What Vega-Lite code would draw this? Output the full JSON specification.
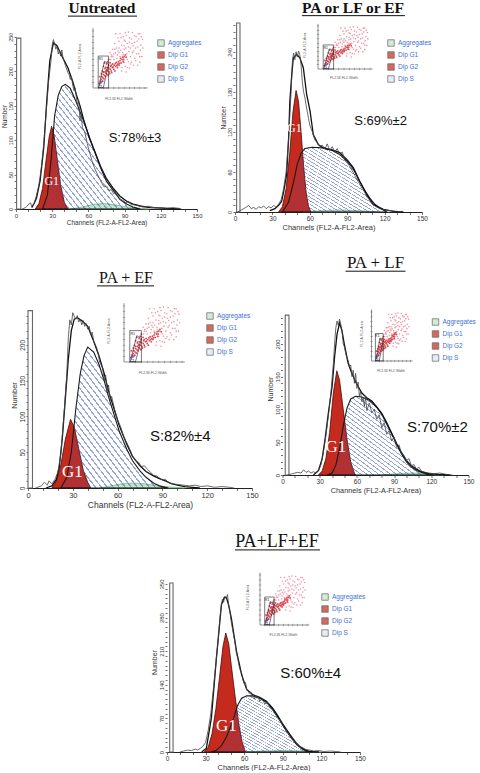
{
"$schema": "https://vega.github.io/schema/vega-lite/v6.json",
"background": "white",
"padding": {"left": 0, "top": 0, "right": 0, "bottom": 0},
"config": {
 "view": {"stroke": null},
 "font": "Liberation Sans",
 "axis": {"labelFont": "Liberation Sans", "titleFont": "Liberation Sans", "labelColor": "#333", "titleColor": "#333", "titleFontWeight": "normal", "tickColor": "#333", "tickWidth": 0.7, "domainColor": "#222", "grid": false, "labelOverlap": false},
 "axisX": {"labelFlush": false, "tickSize": 2.5, "labelPadding": 1, "titlePadding": 1},
 "axisY": {"labelAngle": 270, "tickSize": 2, "labelPadding": 0.5, "titlePadding": 1, "domain": false},
 "legend": {"symbolType": "square", "symbolSize": 42, "symbolStrokeColor": "#222", "symbolStrokeWidth": 0.7, "labelFont": "Liberation Sans", "labelFontSize": 6.5, "labelColor": "#3f6fd6", "rowPadding": 2, "labelOffset": 3, "padding": 0}
},
"datasets": {
 "leg": [{"c":"Aggregates","x":0,"y":0},{"c":"Dip G1","x":0,"y":0},{"c":"Dip G2","x":0,"y":0},{"c":"Dip S","x":0,"y":0}],
 "sax": [{"u":0,"v":0,"u2":1.05,"v2":0},{"u":0,"v":0,"u2":0,"v2":1.05}],
 "stx": [{"u":0.1,"v":0},{"u":0.2,"v":0},{"u":0.3,"v":0},{"u":0.4,"v":0},{"u":0.5,"v":0},{"u":0.6,"v":0},{"u":0.7,"v":0},{"u":0.8,"v":0},{"u":0.9,"v":0},{"u":1,"v":0}],
 "sty": [{"u":0,"v":0.1},{"u":0,"v":0.2},{"u":0,"v":0.3},{"u":0,"v":0.4},{"u":0,"v":0.5},{"u":0,"v":0.6},{"u":0,"v":0.7},{"u":0,"v":0.8},{"u":0,"v":0.9},{"u":0,"v":1}],
 "sgr": [{"u":0.1,"u2":0.3,"v":0,"v2":0.56}],
 "sgp": [{"u":0.11,"v":0.01,"o":1},{"u":0.2,"v":0.01,"o":2},{"u":0.3,"v":0.42,"o":3},{"u":0.22,"v":0.47,"o":4},{"u":0.11,"v":0.01,"o":5}],
 "sxt": [{"u":0.5,"v":-0.2,"t":"FL2-W-FL2-Width"}],
 "syt": [{"u":-0.25,"v":0.55,"t":"FL2-A-FL2-Area"}],
 "srt": [{"u":0.15,"v":0.5,"t":"R1"}],
 "scd": [{"u":0.12,"v":0.08},{"u":0.14,"v":0.12},{"u":0.15,"v":0.1},{"u":0.16,"v":0.15},{"u":0.17,"v":0.2},{"u":0.18,"v":0.12},{"u":0.19,"v":0.18},{"u":0.2,"v":0.24},{"u":0.21,"v":0.16},{"u":0.22,"v":0.22},{"u":0.23,"v":0.28},{"u":0.24,"v":0.2},{"u":0.25,"v":0.26},{"u":0.26,"v":0.32},{"u":0.27,"v":0.24},{"u":0.28,"v":0.3},{"u":0.29,"v":0.22},{"u":0.3,"v":0.35},{"u":0.31,"v":0.28},{"u":0.32,"v":0.25},{"u":0.33,"v":0.33},{"u":0.34,"v":0.38},{"u":0.35,"v":0.3},{"u":0.36,"v":0.27},{"u":0.37,"v":0.36},{"u":0.38,"v":0.42},{"u":0.4,"v":0.33},{"u":0.41,"v":0.4},{"u":0.42,"v":0.3},{"u":0.44,"v":0.38},{"u":0.45,"v":0.45},{"u":0.47,"v":0.36},{"u":0.48,"v":0.42},{"u":0.5,"v":0.4},{"u":0.52,"v":0.48},{"u":0.54,"v":0.44},{"u":0.56,"v":0.5},{"u":0.58,"v":0.46},{"u":0.6,"v":0.55},{"u":0.18,"v":0.3},{"u":0.2,"v":0.38},{"u":0.22,"v":0.44},{"u":0.24,"v":0.36},{"u":0.26,"v":0.42},{"u":0.16,"v":0.25},{"u":0.13,"v":0.2},{"u":0.28,"v":0.46},{"u":0.3,"v":0.5},{"u":0.35,"v":0.4},{"u":0.39,"v":0.37},{"u":0.43,"v":0.43},{"u":0.46,"v":0.4},{"u":0.49,"v":0.46},{"u":0.51,"v":0.43},{"u":0.53,"v":0.52},{"u":0.57,"v":0.54},{"u":0.59,"v":0.5},{"u":0.62,"v":0.58},{"u":0.64,"v":0.54},{"u":0.25,"v":0.3},{"u":0.27,"v":0.36},{"u":0.3,"v":0.4},{"u":0.33,"v":0.44},{"u":0.2,"v":0.28},{"u":0.23,"v":0.34}],
 "scs": [{"u":0.35,"v":0.55},{"u":0.4,"v":0.6},{"u":0.45,"v":0.7},{"u":0.5,"v":0.62},{"u":0.55,"v":0.75},{"u":0.6,"v":0.68},{"u":0.62,"v":0.82},{"u":0.65,"v":0.6},{"u":0.68,"v":0.72},{"u":0.7,"v":0.88},{"u":0.72,"v":0.55},{"u":0.75,"v":0.78},{"u":0.78,"v":0.65},{"u":0.8,"v":0.92},{"u":0.82,"v":0.7},{"u":0.85,"v":0.82},{"u":0.88,"v":0.6},{"u":0.9,"v":0.95},{"u":0.92,"v":0.75},{"u":0.95,"v":0.85},{"u":0.42,"v":0.78},{"u":0.48,"v":0.88},{"u":0.52,"v":0.95},{"u":0.58,"v":0.9},{"u":0.38,"v":0.68},{"u":0.66,"v":0.5},{"u":0.74,"v":0.45},{"u":0.8,"v":0.52},{"u":0.86,"v":0.4},{"u":0.62,"v":0.38},{"u":0.7,"v":0.35},{"u":0.55,"v":0.3},{"u":0.64,"v":0.28},{"u":0.9,"v":0.55},{"u":0.46,"v":0.52},{"u":0.33,"v":0.62},{"u":0.76,"v":0.97},{"u":0.68,"v":0.98},{"u":0.44,"v":0.95},{"u":0.58,"v":0.58},{"u":0.3,"v":0.45},{"u":0.34,"v":0.5},{"u":0.36,"v":0.58},{"u":0.4,"v":0.5},{"u":0.43,"v":0.62},{"u":0.47,"v":0.58},{"u":0.5,"v":0.7},{"u":0.53,"v":0.66},{"u":0.57,"v":0.62},{"u":0.6,"v":0.74},{"u":0.63,"v":0.7},{"u":0.66,"v":0.78},{"u":0.69,"v":0.64},{"u":0.72,"v":0.7},{"u":0.74,"v":0.86},{"u":0.77,"v":0.74},{"u":0.8,"v":0.8},{"u":0.83,"v":0.9},{"u":0.86,"v":0.72},{"u":0.88,"v":0.86},{"u":0.91,"v":0.66},{"u":0.93,"v":0.9},{"u":0.96,"v":0.7},{"u":0.5,"v":0.82},{"u":0.54,"v":0.88},{"u":0.6,"v":0.84},{"u":0.64,"v":0.92},{"u":0.7,"v":0.8},{"u":0.76,"v":0.62},{"u":0.84,"v":0.6},{"u":0.9,"v":0.45},{"u":0.94,"v":0.55},{"u":0.78,"v":0.4},{"u":0.72,"v":0.42},{"u":0.68,"v":0.46},{"u":0.6,"v":0.45},{"u":0.52,"v":0.55},{"u":0.48,"v":0.65},{"u":0.42,"v":0.68},{"u":0.38,"v":0.55},{"u":0.56,"v":0.36},{"u":0.66,"v":0.36},{"u":0.82,"v":0.48},{"u":0.87,"v":0.95},{"u":0.62,"v":0.97}],
 "scb": [{"u":0.13,"v":0.05},{"u":0.15,"v":0.08},{"u":0.17,"v":0.1},{"u":0.16,"v":0.04},{"u":0.19,"v":0.12}],

 "p1b": [{"x":0.5,"x2":4,"y":0,"y2":248}],
 "p1t": [{"x":98.6,"y":103.5,"t":"S:78%±3"}],
 "p1l": [{"x":29.6,"y":40.6,"t":"G1"}],
 "p1u": [{"x":43.1,"x2":100.3,"y":280}],
 "p1h": [{"x":5,"y":0},{"x":8,"y":2},{"x":10,"y":6},{"x":12,"y":9},{"x":13,"y":4},{"x":15,"y":8},{"x":17,"y":20},{"x":19,"y":35},{"x":21,"y":60},{"x":23,"y":95},{"x":25,"y":140},{"x":27,"y":185},{"x":29,"y":215},{"x":30,"y":238},{"x":31,"y":246},{"x":32,"y":240},{"x":33,"y":232},{"x":34,"y":236},{"x":35,"y":225},{"x":36,"y":230},{"x":37,"y":222},{"x":38,"y":231},{"x":39,"y":219},{"x":40,"y":214},{"x":41,"y":208},{"x":42,"y":203},{"x":43,"y":198},{"x":44,"y":195},{"x":45,"y":188},{"x":46,"y":192},{"x":47,"y":180},{"x":48,"y":172},{"x":49,"y":176},{"x":50,"y":162},{"x":51,"y":150},{"x":52,"y":158},{"x":53,"y":128},{"x":54,"y":140},{"x":55,"y":118},{"x":57,"y":112},{"x":59,"y":95},{"x":61,"y":82},{"x":63,"y":70},{"x":65,"y":60},{"x":67,"y":52},{"x":69,"y":45},{"x":71,"y":38},{"x":73,"y":32},{"x":75,"y":33},{"x":77,"y":27},{"x":79,"y":28},{"x":81,"y":22},{"x":83,"y":25},{"x":85,"y":17},{"x":87,"y":14},{"x":89,"y":12},{"x":91,"y":9},{"x":93,"y":11},{"x":95,"y":7},{"x":98,"y":6},{"x":101,"y":5},{"x":105,"y":3},{"x":110,"y":4},{"x":115,"y":2},{"x":120,"y":2},{"x":125,"y":1},{"x":130,"y":2},{"x":135,"y":1},{"x":137,"y":0}],
 "p1e": [{"x":13,"y":2},{"x":15,"y":8},{"x":17,"y":16},{"x":20,"y":41},{"x":23,"y":89},{"x":25.5,"y":157},{"x":28,"y":215},{"x":31,"y":241},{"x":34,"y":237},{"x":38,"y":222},{"x":43,"y":205},{"x":47,"y":185},{"x":50,"y":166},{"x":53,"y":150},{"x":56,"y":130},{"x":61,"y":102},{"x":65,"y":85},{"x":70,"y":62},{"x":75,"y":44},{"x":81,"y":29},{"x":86,"y":19},{"x":92,"y":11},{"x":97,"y":7},{"x":104,"y":4},{"x":111,"y":2},{"x":125,"y":1},{"x":136,"y":0}],
 "p1g": [{"x":16,"y":0},{"x":19,"y":8},{"x":22,"y":30},{"x":25,"y":72},{"x":27.5,"y":105},{"x":29.5,"y":120},{"x":31.5,"y":108},{"x":34,"y":75},{"x":37,"y":35},{"x":40,"y":10},{"x":43,"y":0}],
 "p1s": [{"x":22,"y":0},{"x":26,"y":20},{"x":29,"y":70},{"x":32,"y":135},{"x":35,"y":165},{"x":38,"y":178},{"x":41,"y":181},{"x":45,"y":175},{"x":50,"y":155},{"x":56,"y":128},{"x":64,"y":89},{"x":70,"y":60},{"x":75,"y":40},{"x":81,"y":26},{"x":86,"y":14},{"x":92,"y":7},{"x":97,"y":3},{"x":103,"y":0}],
 "p1a": [{"x":45,"y":0},{"x":55,"y":3},{"x":65,"y":7},{"x":73,"y":8},{"x":82,"y":6},{"x":92,"y":3},{"x":100,"y":1.5},{"x":110,"y":0}],

 "p2b": [{"x":1.3,"x2":4,"y":0,"y2":283}],
 "p2t": [{"x":116.8,"y":136.5,"t":"S:69%±2"}],
 "p2l": [{"x":47.6,"y":126,"t":"G1"}],
 "p2u": [{"x":53.7,"x2":136.3,"y":294}],
 "p2h": [{"x":2,"y":0},{"x":5,"y":3},{"x":8,"y":6},{"x":11,"y":10},{"x":13,"y":5},{"x":15,"y":7},{"x":17,"y":4},{"x":19,"y":8},{"x":21,"y":6},{"x":23,"y":9},{"x":25,"y":5},{"x":27,"y":8},{"x":29,"y":6},{"x":31,"y":10},{"x":33,"y":7},{"x":35,"y":12},{"x":37,"y":18},{"x":39,"y":35},{"x":41,"y":60},{"x":43,"y":110},{"x":45,"y":180},{"x":46,"y":225},{"x":47,"y":238},{"x":48,"y":228},{"x":49,"y":240},{"x":50,"y":232},{"x":51,"y":241},{"x":52,"y":236},{"x":53,"y":220},{"x":54,"y":195},{"x":55,"y":180},{"x":56,"y":172},{"x":57,"y":160},{"x":58,"y":150},{"x":59,"y":140},{"x":60,"y":130},{"x":62,"y":120},{"x":64,"y":108},{"x":66,"y":104},{"x":68,"y":98},{"x":70,"y":100},{"x":72,"y":94},{"x":74,"y":102},{"x":76,"y":92},{"x":78,"y":98},{"x":80,"y":90},{"x":82,"y":95},{"x":84,"y":86},{"x":86,"y":90},{"x":88,"y":78},{"x":90,"y":74},{"x":92,"y":68},{"x":94,"y":62},{"x":96,"y":55},{"x":98,"y":48},{"x":100,"y":42},{"x":102,"y":35},{"x":104,"y":30},{"x":106,"y":22},{"x":108,"y":18},{"x":110,"y":12},{"x":113,"y":8},{"x":116,"y":5},{"x":120,"y":3},{"x":125,"y":2},{"x":130,"y":1},{"x":133,"y":0}],
 "p2e": [{"x":28,"y":2},{"x":32,"y":5},{"x":35,"y":10},{"x":37.4,"y":16},{"x":39,"y":30},{"x":41.4,"y":56},{"x":43,"y":110},{"x":44,"y":166},{"x":45.5,"y":205},{"x":46.8,"y":231},{"x":49.5,"y":236},{"x":52,"y":231},{"x":54.8,"y":216},{"x":57.5,"y":176},{"x":60.2,"y":151},{"x":62.8,"y":116},{"x":66.8,"y":101},{"x":70,"y":97},{"x":73.5,"y":95},{"x":78,"y":93},{"x":84,"y":89},{"x":90,"y":78},{"x":95,"y":66},{"x":100,"y":46},{"x":105.6,"y":26},{"x":111,"y":11},{"x":119,"y":4},{"x":127,"y":1},{"x":135,"y":0}],
 "p2g": [{"x":35,"y":0},{"x":38,"y":8},{"x":41,"y":35},{"x":44,"y":90},{"x":46.5,"y":150},{"x":49,"y":182},{"x":51,"y":165},{"x":53,"y":120},{"x":55,"y":70},{"x":57,"y":30},{"x":59,"y":8},{"x":61,"y":0}],
 "p2s": [{"x":38,"y":0},{"x":43,"y":15},{"x":47,"y":45},{"x":50,"y":72},{"x":53,"y":88},{"x":56,"y":95},{"x":62,"y":97},{"x":70,"y":96},{"x":78,"y":92},{"x":84,"y":86},{"x":90,"y":76},{"x":95,"y":64},{"x":100,"y":46},{"x":104,"y":33},{"x":108,"y":21},{"x":112,"y":12},{"x":116,"y":6},{"x":122,"y":0}],
 "p2a": [{"x":55,"y":0},{"x":70,"y":2},{"x":85,"y":3},{"x":100,"y":2},{"x":115,"y":0}],

 "p3b": [{"x":0,"x2":3,"y":0,"y2":248}],
 "p3t": [{"x":102,"y":73,"t":"S:82%±4"}],
 "p3l": [{"x":29.7,"y":22,"t":"G1"}],
 "p3u": [{"x":46.2,"x2":84.4,"y":282.5}],
 "p3h": [{"x":5,"y":0},{"x":9,"y":3},{"x":11,"y":8},{"x":13,"y":4},{"x":14,"y":10},{"x":16,"y":6},{"x":18,"y":12},{"x":20,"y":22},{"x":22,"y":48},{"x":24,"y":100},{"x":26,"y":160},{"x":27,"y":210},{"x":28,"y":235},{"x":29,"y":228},{"x":30,"y":245},{"x":31,"y":240},{"x":32,"y":236},{"x":33,"y":241},{"x":34,"y":232},{"x":35,"y":236},{"x":36,"y":228},{"x":37,"y":234},{"x":38,"y":226},{"x":39,"y":230},{"x":40,"y":222},{"x":41,"y":226},{"x":42,"y":214},{"x":43,"y":218},{"x":44,"y":205},{"x":46,"y":196},{"x":47,"y":188},{"x":48,"y":176},{"x":50,"y":168},{"x":51,"y":150},{"x":52,"y":158},{"x":53,"y":136},{"x":54,"y":144},{"x":55,"y":122},{"x":56,"y":128},{"x":58,"y":110},{"x":60,"y":95},{"x":62,"y":86},{"x":64,"y":72},{"x":66,"y":64},{"x":68,"y":55},{"x":70,"y":45},{"x":72,"y":38},{"x":74,"y":36},{"x":76,"y":30},{"x":78,"y":31},{"x":80,"y":26},{"x":82,"y":22},{"x":84,"y":18},{"x":86,"y":17},{"x":88,"y":14},{"x":90,"y":11},{"x":92,"y":12},{"x":94,"y":8},{"x":96,"y":6},{"x":100,"y":5},{"x":104,"y":4},{"x":108,"y":3},{"x":112,"y":4},{"x":116,"y":2},{"x":120,"y":3},{"x":125,"y":1},{"x":130,"y":2},{"x":135,"y":1},{"x":138,"y":0}],
 "p3e": [{"x":12,"y":0},{"x":16,"y":3},{"x":19,"y":12},{"x":21,"y":30},{"x":23,"y":70},{"x":25,"y":125},{"x":27,"y":180},{"x":29,"y":220},{"x":31,"y":236},{"x":33,"y":238},{"x":36,"y":234},{"x":40,"y":226},{"x":44,"y":205},{"x":47.5,"y":185},{"x":51,"y":160},{"x":54,"y":135},{"x":58,"y":108},{"x":61,"y":88},{"x":66,"y":62},{"x":70,"y":44},{"x":75,"y":31},{"x":79,"y":23},{"x":84,"y":17},{"x":88,"y":13},{"x":92,"y":10},{"x":96,"y":6},{"x":100,"y":4},{"x":105,"y":2},{"x":110,"y":1},{"x":115,"y":0}],
 "p3g": [{"x":16,"y":0},{"x":19,"y":10},{"x":22,"y":32},{"x":25,"y":68},{"x":28.5,"y":96},{"x":31,"y":85},{"x":34,"y":55},{"x":37,"y":25},{"x":40,"y":8},{"x":42,"y":0}],
 "p3s": [{"x":22,"y":0},{"x":26,"y":15},{"x":29,"y":50},{"x":32,"y":110},{"x":35,"y":160},{"x":37.5,"y":185},{"x":40,"y":197},{"x":44,"y":190},{"x":47.5,"y":173},{"x":51,"y":150},{"x":54,"y":127},{"x":58,"y":100},{"x":61,"y":80},{"x":66,"y":55},{"x":70,"y":38},{"x":75,"y":24},{"x":79,"y":15},{"x":84,"y":7},{"x":88,"y":3},{"x":94,"y":0}],
 "p3a": [{"x":48,"y":0},{"x":56,"y":3},{"x":63,"y":6},{"x":70,"y":7},{"x":78,"y":6},{"x":86,"y":3},{"x":95,"y":1.5},{"x":105,"y":0}],

 "p4b": [{"x":2.2,"x2":5.2,"y":0,"y2":244}],
 "p4t": [{"x":125,"y":72.8,"t":"S:70%±2"}],
 "p4l": [{"x":43,"y":42,"t":"G1"}],
 "p4u": [{"x":50.8,"x2":99.2,"y":311}],
 "p4h": [{"x":4,"y":0},{"x":8,"y":2},{"x":12,"y":4},{"x":15,"y":3},{"x":17,"y":8},{"x":19,"y":4},{"x":21,"y":6},{"x":23,"y":3},{"x":25,"y":5},{"x":27,"y":3},{"x":29,"y":6},{"x":31,"y":15},{"x":33,"y":35},{"x":35,"y":60},{"x":37,"y":90},{"x":39,"y":125},{"x":41,"y":170},{"x":42,"y":200},{"x":43,"y":225},{"x":44,"y":235},{"x":45,"y":228},{"x":46,"y":238},{"x":47,"y":230},{"x":48,"y":220},{"x":49,"y":200},{"x":50,"y":195},{"x":51,"y":185},{"x":52,"y":178},{"x":53,"y":175},{"x":54,"y":165},{"x":55,"y":168},{"x":56,"y":150},{"x":57,"y":160},{"x":58,"y":140},{"x":59,"y":155},{"x":60,"y":132},{"x":61,"y":142},{"x":62,"y":120},{"x":63,"y":128},{"x":64,"y":112},{"x":65,"y":118},{"x":66,"y":105},{"x":67,"y":120},{"x":68,"y":98},{"x":70,"y":110},{"x":72,"y":95},{"x":74,"y":100},{"x":76,"y":85},{"x":78,"y":92},{"x":80,"y":72},{"x":82,"y":80},{"x":84,"y":62},{"x":86,"y":68},{"x":88,"y":52},{"x":90,"y":58},{"x":92,"y":42},{"x":94,"y":46},{"x":96,"y":32},{"x":98,"y":30},{"x":100,"y":22},{"x":102,"y":25},{"x":104,"y":14},{"x":106,"y":16},{"x":108,"y":9},{"x":110,"y":12},{"x":112,"y":6},{"x":115,"y":4},{"x":118,"y":3},{"x":122,"y":2},{"x":127,"y":3},{"x":132,"y":1},{"x":137,"y":0}],
 "p4e": [{"x":25,"y":0},{"x":29,"y":7},{"x":32,"y":25},{"x":34.5,"y":57},{"x":37,"y":95},{"x":40,"y":135},{"x":42,"y":180},{"x":44,"y":215},{"x":46,"y":232},{"x":48,"y":220},{"x":50,"y":198},{"x":53,"y":170},{"x":56,"y":155},{"x":59,"y":142},{"x":64,"y":125},{"x":68,"y":118},{"x":72,"y":113},{"x":76,"y":104},{"x":80,"y":94},{"x":84,"y":80},{"x":88,"y":64},{"x":92,"y":48},{"x":96,"y":34},{"x":100,"y":22},{"x":104,"y":14},{"x":108,"y":9},{"x":112,"y":5},{"x":118,"y":2},{"x":125,"y":1},{"x":135,"y":0}],
 "p4g": [{"x":29,"y":0},{"x":32,"y":6},{"x":35,"y":25},{"x":38,"y":65},{"x":41,"y":125},{"x":43.8,"y":159},{"x":46,"y":145},{"x":49,"y":100},{"x":52,"y":55},{"x":55,"y":20},{"x":58,"y":3},{"x":59,"y":0}],
 "p4s": [{"x":36,"y":0},{"x":40,"y":3},{"x":43,"y":15},{"x":46,"y":40},{"x":49,"y":75},{"x":52,"y":102},{"x":55,"y":116},{"x":59,"y":120},{"x":64,"y":119},{"x":69,"y":115},{"x":72,"y":111},{"x":76,"y":103},{"x":80,"y":93},{"x":84,"y":78},{"x":88,"y":63},{"x":92,"y":47},{"x":96,"y":32},{"x":100,"y":20},{"x":104,"y":12},{"x":108,"y":7},{"x":112,"y":4},{"x":118,"y":1},{"x":122,"y":0}],
 "p4a": [{"x":80,"y":0},{"x":92,"y":2},{"x":105,"y":3},{"x":118,"y":2},{"x":130,"y":0}],

 "p5b": [{"x":2.1,"x2":4.7,"y":0,"y2":352}],
 "p5t": [{"x":111.7,"y":164.6,"t":"S:60%±4"}],
 "p5l": [{"x":46.2,"y":53.5,"t":"G1"}],
 "p5u": [{"x":52.8,"x2":118.9,"y":421}],
 "p5h": [{"x":10,"y":0},{"x":13,"y":2},{"x":16,"y":4},{"x":19,"y":3},{"x":22,"y":6},{"x":24,"y":4},{"x":26,"y":8},{"x":28,"y":12},{"x":30,"y":20},{"x":32,"y":45},{"x":34,"y":80},{"x":36,"y":130},{"x":38,"y":185},{"x":40,"y":240},{"x":41,"y":275},{"x":42,"y":300},{"x":43,"y":318},{"x":44,"y":312},{"x":45,"y":325},{"x":46,"y":320},{"x":47,"y":328},{"x":48,"y":305},{"x":49,"y":290},{"x":50,"y":270},{"x":51,"y":255},{"x":52,"y":240},{"x":53,"y":225},{"x":54,"y":205},{"x":55,"y":195},{"x":56,"y":180},{"x":57,"y":170},{"x":58,"y":165},{"x":59,"y":150},{"x":60,"y":142},{"x":61,"y":145},{"x":62,"y":130},{"x":63,"y":128},{"x":64,"y":122},{"x":65,"y":125},{"x":66,"y":115},{"x":67,"y":120},{"x":68,"y":110},{"x":69,"y":118},{"x":70,"y":112},{"x":71,"y":116},{"x":72,"y":106},{"x":74,"y":110},{"x":76,"y":100},{"x":78,"y":104},{"x":80,"y":92},{"x":82,"y":88},{"x":84,"y":80},{"x":86,"y":70},{"x":88,"y":66},{"x":90,"y":55},{"x":92,"y":48},{"x":94,"y":40},{"x":96,"y":32},{"x":98,"y":25},{"x":100,"y":20},{"x":102,"y":14},{"x":104,"y":10},{"x":106,"y":8},{"x":108,"y":5},{"x":111,"y":4},{"x":114,"y":2},{"x":118,"y":3},{"x":122,"y":1},{"x":127,"y":2},{"x":132,"y":1},{"x":135,"y":0}],
 "p5e": [{"x":27,"y":0},{"x":30.6,"y":8},{"x":34.5,"y":71},{"x":38.4,"y":196},{"x":42.3,"y":307},{"x":44.5,"y":322},{"x":46.2,"y":321},{"x":48,"y":305},{"x":50,"y":279},{"x":54,"y":210},{"x":58,"y":161},{"x":62,"y":130},{"x":67,"y":119},{"x":72,"y":114},{"x":77,"y":106},{"x":82,"y":92},{"x":86,"y":76},{"x":90,"y":58},{"x":95.6,"y":36},{"x":100,"y":20},{"x":103,"y":12},{"x":107,"y":5},{"x":111,"y":1},{"x":118,"y":0}],
 "p5g": [{"x":29,"y":0},{"x":32,"y":10},{"x":35,"y":38},{"x":38,"y":90},{"x":41,"y":160},{"x":43.5,"y":220},{"x":45.7,"y":248},{"x":48,"y":225},{"x":50,"y":180},{"x":53,"y":115},{"x":56,"y":55},{"x":58.5,"y":20},{"x":61,"y":0}],
 "p5s": [{"x":34,"y":0},{"x":38,"y":3},{"x":42,"y":12},{"x":46,"y":30},{"x":49,"y":50},{"x":52,"y":72},{"x":55,"y":98},{"x":58,"y":112},{"x":62,"y":117},{"x":66,"y":117},{"x":70,"y":114},{"x":75,"y":108},{"x":80,"y":96},{"x":85,"y":78},{"x":89,"y":60},{"x":93,"y":43},{"x":97,"y":28},{"x":101,"y":15},{"x":105,"y":6},{"x":109,"y":1},{"x":112,"y":0}],
 "p5a": [{"x":60,"y":0},{"x":75,"y":2},{"x":90,"y":3},{"x":105,"y":2},{"x":120,"y":0}]
},
"spacing": 23,
"resolve": {"scale": {"color": "independent"}},
"vconcat": [
 {"spacing": 23, "resolve": {"scale": {"color": "independent"}}, "vconcat": [
  {"spacing": 17, "resolve": {"scale": {"color": "independent"}}, "hconcat": [
   {"spacing": 0, "resolve": {"scale": {"color": "independent"}}, "hconcat": [
    {"width": 1, "height": 10, "data": {"values": [{"a": 1}]}, "mark": {"type": "point", "size": 0, "opacity": 0}},
    {"width": 181, "height": 186,
     "title": {"text": "Untreated", "font": "Liberation Serif", "fontSize": 15.5, "fontWeight": "bold", "color": "#111", "anchor": "middle", "frame": "group", "dx": -4.5, "offset": -13, "baseline": "alphabetic"},
     "resolve": {"scale": {"x": "independent", "y": "independent"}},
     "layer": [
      {"encoding": {
        "x": {"field": "x", "type": "quantitative", "scale": {"domain": [0, 150], "nice": false, "zero": false}, "axis": {"values": [0,10,20,30,40,50,60,70,80,90,100,110,120,130,140,150], "labelExpr": "datum.value % 30 === 0 ? datum.label : ''", "title": "Channels  (FL2-A-FL2-Area)", "labelFontSize": 6, "titleFontSize": 6.5}},
        "y": {"field": "y", "type": "quantitative", "scale": {"domain": [0, 270], "nice": false}, "axis": {"values": [0,10,20,30,40,50,60,70,80,90,100,110,120,130,140,150,160,170,180,190,200,210,220,230,240,250], "labelExpr": "datum.value % 50 === 0 ? datum.label : ''", "title": "Number", "labelFontSize": 5.5, "titleFontSize": 6.5}}},
       "layer": [
        {"data": {"name": "p1b"}, "mark": {"type": "rect", "fill": "white", "stroke": "#666", "strokeWidth": 1.1}, "encoding": {"x2": {"field": "x2"}, "y2": {"field": "y2"}}},
        {"data": {"name": "p1a"}, "mark": {"type": "area", "fill": "#bfe6c6", "stroke": "#5f9f70", "strokeWidth": 0.6}},
        {"data": {"name": "p1g"}, "mark": {"type": "area", "fill": "#c42a1e", "stroke": "#4a0c08", "strokeWidth": 0.8}},
        {"data": {"name": "p1s"}, "mark": {"type": "area", "stroke": "#1a1a1a", "strokeWidth": 1.1, "fill": {"gradient": "linear", "x1": 0, "y1": 1, "x2": 1, "y2": 0, "stops": [{"offset":0,"color":"#fff0"},{"offset":0.0208,"color":"#fff0"},{"offset":0.0208,"color":"#3c5ab48c"},{"offset":0.0278,"color":"#3c5ab48c"},{"offset":0.0278,"color":"#fff0"},{"offset":0.0486,"color":"#fff0"},{"offset":0.0486,"color":"#3c5ab48c"},{"offset":0.0556,"color":"#3c5ab48c"},{"offset":0.0556,"color":"#fff0"},{"offset":0.0764,"color":"#fff0"},{"offset":0.0764,"color":"#3c5ab48c"},{"offset":0.0833,"color":"#3c5ab48c"},{"offset":0.0833,"color":"#fff0"},{"offset":0.1042,"color":"#fff0"},{"offset":0.1042,"color":"#3c5ab48c"},{"offset":0.1111,"color":"#3c5ab48c"},{"offset":0.1111,"color":"#fff0"},{"offset":0.1319,"color":"#fff0"},{"offset":0.1319,"color":"#3c5ab48c"},{"offset":0.1389,"color":"#3c5ab48c"},{"offset":0.1389,"color":"#fff0"},{"offset":0.1597,"color":"#fff0"},{"offset":0.1597,"color":"#3c5ab48c"},{"offset":0.1667,"color":"#3c5ab48c"},{"offset":0.1667,"color":"#fff0"},{"offset":0.1875,"color":"#fff0"},{"offset":0.1875,"color":"#3c5ab48c"},{"offset":0.1944,"color":"#3c5ab48c"},{"offset":0.1944,"color":"#fff0"},{"offset":0.2153,"color":"#fff0"},{"offset":0.2153,"color":"#3c5ab48c"},{"offset":0.2222,"color":"#3c5ab48c"},{"offset":0.2222,"color":"#fff0"},{"offset":0.2431,"color":"#fff0"},{"offset":0.2431,"color":"#3c5ab48c"},{"offset":0.25,"color":"#3c5ab48c"},{"offset":0.25,"color":"#fff0"},{"offset":0.2708,"color":"#fff0"},{"offset":0.2708,"color":"#3c5ab48c"},{"offset":0.2778,"color":"#3c5ab48c"},{"offset":0.2778,"color":"#fff0"},{"offset":0.2986,"color":"#fff0"},{"offset":0.2986,"color":"#3c5ab48c"},{"offset":0.3056,"color":"#3c5ab48c"},{"offset":0.3056,"color":"#fff0"},{"offset":0.3264,"color":"#fff0"},{"offset":0.3264,"color":"#3c5ab48c"},{"offset":0.3333,"color":"#3c5ab48c"},{"offset":0.3333,"color":"#fff0"},{"offset":0.3542,"color":"#fff0"},{"offset":0.3542,"color":"#3c5ab48c"},{"offset":0.3611,"color":"#3c5ab48c"},{"offset":0.3611,"color":"#fff0"},{"offset":0.3819,"color":"#fff0"},{"offset":0.3819,"color":"#3c5ab48c"},{"offset":0.3889,"color":"#3c5ab48c"},{"offset":0.3889,"color":"#fff0"},{"offset":0.4097,"color":"#fff0"},{"offset":0.4097,"color":"#3c5ab48c"},{"offset":0.4167,"color":"#3c5ab48c"},{"offset":0.4167,"color":"#fff0"},{"offset":0.4375,"color":"#fff0"},{"offset":0.4375,"color":"#3c5ab48c"},{"offset":0.4444,"color":"#3c5ab48c"},{"offset":0.4444,"color":"#fff0"},{"offset":0.4653,"color":"#fff0"},{"offset":0.4653,"color":"#3c5ab48c"},{"offset":0.4722,"color":"#3c5ab48c"},{"offset":0.4722,"color":"#fff0"},{"offset":0.4931,"color":"#fff0"},{"offset":0.4931,"color":"#3c5ab48c"},{"offset":0.5,"color":"#3c5ab48c"},{"offset":0.5,"color":"#fff0"},{"offset":0.5208,"color":"#fff0"},{"offset":0.5208,"color":"#3c5ab48c"},{"offset":0.5278,"color":"#3c5ab48c"},{"offset":0.5278,"color":"#fff0"},{"offset":0.5486,"color":"#fff0"},{"offset":0.5486,"color":"#3c5ab48c"},{"offset":0.5556,"color":"#3c5ab48c"},{"offset":0.5556,"color":"#fff0"},{"offset":0.5764,"color":"#fff0"},{"offset":0.5764,"color":"#3c5ab48c"},{"offset":0.5833,"color":"#3c5ab48c"},{"offset":0.5833,"color":"#fff0"},{"offset":0.6042,"color":"#fff0"},{"offset":0.6042,"color":"#3c5ab48c"},{"offset":0.6111,"color":"#3c5ab48c"},{"offset":0.6111,"color":"#fff0"},{"offset":0.6319,"color":"#fff0"},{"offset":0.6319,"color":"#3c5ab48c"},{"offset":0.6389,"color":"#3c5ab48c"},{"offset":0.6389,"color":"#fff0"},{"offset":0.6597,"color":"#fff0"},{"offset":0.6597,"color":"#3c5ab48c"},{"offset":0.6667,"color":"#3c5ab48c"},{"offset":0.6667,"color":"#fff0"},{"offset":0.6875,"color":"#fff0"},{"offset":0.6875,"color":"#3c5ab48c"},{"offset":0.6944,"color":"#3c5ab48c"},{"offset":0.6944,"color":"#fff0"},{"offset":0.7153,"color":"#fff0"},{"offset":0.7153,"color":"#3c5ab48c"},{"offset":0.7222,"color":"#3c5ab48c"},{"offset":0.7222,"color":"#fff0"},{"offset":0.7431,"color":"#fff0"},{"offset":0.7431,"color":"#3c5ab48c"},{"offset":0.75,"color":"#3c5ab48c"},{"offset":0.75,"color":"#fff0"},{"offset":0.7708,"color":"#fff0"},{"offset":0.7708,"color":"#3c5ab48c"},{"offset":0.7778,"color":"#3c5ab48c"},{"offset":0.7778,"color":"#fff0"},{"offset":0.7986,"color":"#fff0"},{"offset":0.7986,"color":"#3c5ab48c"},{"offset":0.8056,"color":"#3c5ab48c"},{"offset":0.8056,"color":"#fff0"},{"offset":0.8264,"color":"#fff0"},{"offset":0.8264,"color":"#3c5ab48c"},{"offset":0.8333,"color":"#3c5ab48c"},{"offset":0.8333,"color":"#fff0"},{"offset":0.8542,"color":"#fff0"},{"offset":0.8542,"color":"#3c5ab48c"},{"offset":0.8611,"color":"#3c5ab48c"},{"offset":0.8611,"color":"#fff0"},{"offset":0.8819,"color":"#fff0"},{"offset":0.8819,"color":"#3c5ab48c"},{"offset":0.8889,"color":"#3c5ab48c"},{"offset":0.8889,"color":"#fff0"},{"offset":0.9097,"color":"#fff0"},{"offset":0.9097,"color":"#3c5ab48c"},{"offset":0.9167,"color":"#3c5ab48c"},{"offset":0.9167,"color":"#fff0"},{"offset":0.9375,"color":"#fff0"},{"offset":0.9375,"color":"#3c5ab48c"},{"offset":0.9444,"color":"#3c5ab48c"},{"offset":0.9444,"color":"#fff0"},{"offset":0.9653,"color":"#fff0"},{"offset":0.9653,"color":"#3c5ab48c"},{"offset":0.9722,"color":"#3c5ab48c"},{"offset":0.9722,"color":"#fff0"},{"offset":0.9931,"color":"#fff0"},{"offset":0.9931,"color":"#3c5ab48c"},{"offset":1,"color":"#3c5ab48c"}]}}},
        {"data": {"name": "p1e"}, "mark": {"type": "line", "color": "#111", "strokeWidth": 1.3}},
        {"data": {"name": "p1h"}, "mark": {"type": "line", "color": "#444", "strokeWidth": 0.8}},
        {"data": {"name": "p1t"}, "mark": {"type": "text", "font": "Liberation Sans", "fontSize": 13, "color": "#111"}, "encoding": {"text": {"field": "t"}}},
        {"data": {"name": "p1l"}, "mark": {"type": "text", "font": "Liberation Serif", "fontSize": 12, "color": "white"}, "encoding": {"text": {"field": "t"}}},
        {"data": {"name": "p1u"}, "mark": {"type": "rule", "color": "#111", "strokeWidth": 1}, "encoding": {"x2": {"field": "x2"}}},
        {"data": {"name": "leg"}, "mark": {"type": "square", "size": 0}, "encoding": {"color": {"field": "c", "type": "nominal", "scale": {"domain": ["Aggregates","Dip G1","Dip G2","Dip S"], "range": ["#bfe6c6","#c42a1e","#c42a1e","#dfe4f3"]}, "legend": {"title": null, "orient": "none", "legendX": 141, "legendY": 16}}}}
       ]},
      {"encoding": {
        "x": {"field": "u", "type": "quantitative", "scale": {"domain": [-1.481, 2.0], "nice": false, "zero": false}, "axis": null},
        "y": {"field": "v", "type": "quantitative", "scale": {"domain": [-2.123, 1.14], "nice": false, "zero": false}, "axis": null}},
       "layer": [
        {"data": {"name": "scs"}, "mark": {"type": "circle", "size": 2.6, "color": "#ee8a98", "opacity": 0.9}},
        {"data": {"name": "scd"}, "mark": {"type": "circle", "size": 3.4, "color": "#d62a36", "opacity": 0.85}},
        {"data": {"name": "scb"}, "mark": {"type": "circle", "size": 2.5, "color": "#2f55c8"}},
        {"data": {"name": "sax"}, "mark": {"type": "rule", "color": "#444", "strokeWidth": 0.6}, "encoding": {"x2": {"field": "u2"}, "y2": {"field": "v2"}}},
        {"data": {"name": "stx"}, "mark": {"type": "tick", "orient": "vertical", "size": 2.5, "thickness": 0.5, "color": "#444"}},
        {"data": {"name": "sty"}, "mark": {"type": "tick", "orient": "horizontal", "size": 2.5, "thickness": 0.5, "color": "#444"}},
        {"data": {"name": "sgr"}, "mark": {"type": "rect", "fillOpacity": 0, "stroke": "#222", "strokeWidth": 0.6}, "encoding": {"x2": {"field": "u2"}, "y2": {"field": "v2"}}},
        {"data": {"name": "sgp"}, "mark": {"type": "line", "color": "#222", "strokeWidth": 0.6}, "encoding": {"order": {"field": "o"}}},
        {"data": {"name": "sxt"}, "mark": {"type": "text", "fontSize": 3.5, "color": "#555"}, "encoding": {"text": {"field": "t"}}},
        {"data": {"name": "syt"}, "mark": {"type": "text", "fontSize": 3.5, "color": "#555", "angle": 270}, "encoding": {"text": {"field": "t"}}},
        {"data": {"name": "srt"}, "mark": {"type": "text", "fontSize": 3.5, "color": "#222"}, "encoding": {"text": {"field": "t"}}}
       ]}
     ]}
   ]},
   {"width": 187, "height": 189,
    "title": {"text": "PA or LF or EF", "font": "Liberation Serif", "fontSize": 15.5, "fontWeight": "bold", "color": "#111", "anchor": "middle", "frame": "group", "dx": 24.5, "offset": -13, "baseline": "alphabetic"},
    "resolve": {"scale": {"x": "independent", "y": "independent"}},
    "layer": [
     {"encoding": {
       "x": {"field": "x", "type": "quantitative", "scale": {"domain": [0, 150], "nice": false, "zero": false}, "axis": {"values": [0,10,20,30,40,50,60,70,80,90,100,110,120,130,140,150], "labelExpr": "datum.value % 30 === 0 ? datum.label : ''", "title": "Channels  (FL2-A-FL2-Area)", "labelFontSize": 6.5, "titleFontSize": 7.5}},
       "y": {"field": "y", "type": "quantitative", "scale": {"domain": [0, 283], "nice": false}, "axis": {"values": [0,10,20,30,40,50,60,70,80,90,100,110,120,130,140,150,160,170,180,190,200,210,220,230,240,250,260,270,280], "labelExpr": "datum.value % 60 === 0 ? datum.label : ''", "title": "Number", "labelFontSize": 5.5, "titleFontSize": 6.5}}},
      "layer": [
       {"data": {"name": "p2b"}, "mark": {"type": "rect", "fill": "white", "stroke": "#666", "strokeWidth": 1.1}, "encoding": {"x2": {"field": "x2"}, "y2": {"field": "y2"}}},
       {"data": {"name": "p2a"}, "mark": {"type": "area", "fill": "#bfe6c6", "stroke": "#5f9f70", "strokeWidth": 0.6}},
       {"data": {"name": "p2g"}, "mark": {"type": "area", "fill": "#c42a1e", "stroke": "#4a0c08", "strokeWidth": 0.8}},
       {"data": {"name": "p2s"}, "mark": {"type": "area", "stroke": "#1a1a1a", "strokeWidth": 1.1, "fill": {"gradient": "linear", "x1": 0, "y1": 1, "x2": 1, "y2": 0, "stops": [{"offset":0,"color":"#fff0"},{"offset":0.0208,"color":"#fff0"},{"offset":0.0208,"color":"#3c5ab48c"},{"offset":0.0278,"color":"#3c5ab48c"},{"offset":0.0278,"color":"#fff0"},{"offset":0.0486,"color":"#fff0"},{"offset":0.0486,"color":"#3c5ab48c"},{"offset":0.0556,"color":"#3c5ab48c"},{"offset":0.0556,"color":"#fff0"},{"offset":0.0764,"color":"#fff0"},{"offset":0.0764,"color":"#3c5ab48c"},{"offset":0.0833,"color":"#3c5ab48c"},{"offset":0.0833,"color":"#fff0"},{"offset":0.1042,"color":"#fff0"},{"offset":0.1042,"color":"#3c5ab48c"},{"offset":0.1111,"color":"#3c5ab48c"},{"offset":0.1111,"color":"#fff0"},{"offset":0.1319,"color":"#fff0"},{"offset":0.1319,"color":"#3c5ab48c"},{"offset":0.1389,"color":"#3c5ab48c"},{"offset":0.1389,"color":"#fff0"},{"offset":0.1597,"color":"#fff0"},{"offset":0.1597,"color":"#3c5ab48c"},{"offset":0.1667,"color":"#3c5ab48c"},{"offset":0.1667,"color":"#fff0"},{"offset":0.1875,"color":"#fff0"},{"offset":0.1875,"color":"#3c5ab48c"},{"offset":0.1944,"color":"#3c5ab48c"},{"offset":0.1944,"color":"#fff0"},{"offset":0.2153,"color":"#fff0"},{"offset":0.2153,"color":"#3c5ab48c"},{"offset":0.2222,"color":"#3c5ab48c"},{"offset":0.2222,"color":"#fff0"},{"offset":0.2431,"color":"#fff0"},{"offset":0.2431,"color":"#3c5ab48c"},{"offset":0.25,"color":"#3c5ab48c"},{"offset":0.25,"color":"#fff0"},{"offset":0.2708,"color":"#fff0"},{"offset":0.2708,"color":"#3c5ab48c"},{"offset":0.2778,"color":"#3c5ab48c"},{"offset":0.2778,"color":"#fff0"},{"offset":0.2986,"color":"#fff0"},{"offset":0.2986,"color":"#3c5ab48c"},{"offset":0.3056,"color":"#3c5ab48c"},{"offset":0.3056,"color":"#fff0"},{"offset":0.3264,"color":"#fff0"},{"offset":0.3264,"color":"#3c5ab48c"},{"offset":0.3333,"color":"#3c5ab48c"},{"offset":0.3333,"color":"#fff0"},{"offset":0.3542,"color":"#fff0"},{"offset":0.3542,"color":"#3c5ab48c"},{"offset":0.3611,"color":"#3c5ab48c"},{"offset":0.3611,"color":"#fff0"},{"offset":0.3819,"color":"#fff0"},{"offset":0.3819,"color":"#3c5ab48c"},{"offset":0.3889,"color":"#3c5ab48c"},{"offset":0.3889,"color":"#fff0"},{"offset":0.4097,"color":"#fff0"},{"offset":0.4097,"color":"#3c5ab48c"},{"offset":0.4167,"color":"#3c5ab48c"},{"offset":0.4167,"color":"#fff0"},{"offset":0.4375,"color":"#fff0"},{"offset":0.4375,"color":"#3c5ab48c"},{"offset":0.4444,"color":"#3c5ab48c"},{"offset":0.4444,"color":"#fff0"},{"offset":0.4653,"color":"#fff0"},{"offset":0.4653,"color":"#3c5ab48c"},{"offset":0.4722,"color":"#3c5ab48c"},{"offset":0.4722,"color":"#fff0"},{"offset":0.4931,"color":"#fff0"},{"offset":0.4931,"color":"#3c5ab48c"},{"offset":0.5,"color":"#3c5ab48c"},{"offset":0.5,"color":"#fff0"},{"offset":0.5208,"color":"#fff0"},{"offset":0.5208,"color":"#3c5ab48c"},{"offset":0.5278,"color":"#3c5ab48c"},{"offset":0.5278,"color":"#fff0"},{"offset":0.5486,"color":"#fff0"},{"offset":0.5486,"color":"#3c5ab48c"},{"offset":0.5556,"color":"#3c5ab48c"},{"offset":0.5556,"color":"#fff0"},{"offset":0.5764,"color":"#fff0"},{"offset":0.5764,"color":"#3c5ab48c"},{"offset":0.5833,"color":"#3c5ab48c"},{"offset":0.5833,"color":"#fff0"},{"offset":0.6042,"color":"#fff0"},{"offset":0.6042,"color":"#3c5ab48c"},{"offset":0.6111,"color":"#3c5ab48c"},{"offset":0.6111,"color":"#fff0"},{"offset":0.6319,"color":"#fff0"},{"offset":0.6319,"color":"#3c5ab48c"},{"offset":0.6389,"color":"#3c5ab48c"},{"offset":0.6389,"color":"#fff0"},{"offset":0.6597,"color":"#fff0"},{"offset":0.6597,"color":"#3c5ab48c"},{"offset":0.6667,"color":"#3c5ab48c"},{"offset":0.6667,"color":"#fff0"},{"offset":0.6875,"color":"#fff0"},{"offset":0.6875,"color":"#3c5ab48c"},{"offset":0.6944,"color":"#3c5ab48c"},{"offset":0.6944,"color":"#fff0"},{"offset":0.7153,"color":"#fff0"},{"offset":0.7153,"color":"#3c5ab48c"},{"offset":0.7222,"color":"#3c5ab48c"},{"offset":0.7222,"color":"#fff0"},{"offset":0.7431,"color":"#fff0"},{"offset":0.7431,"color":"#3c5ab48c"},{"offset":0.75,"color":"#3c5ab48c"},{"offset":0.75,"color":"#fff0"},{"offset":0.7708,"color":"#fff0"},{"offset":0.7708,"color":"#3c5ab48c"},{"offset":0.7778,"color":"#3c5ab48c"},{"offset":0.7778,"color":"#fff0"},{"offset":0.7986,"color":"#fff0"},{"offset":0.7986,"color":"#3c5ab48c"},{"offset":0.8056,"color":"#3c5ab48c"},{"offset":0.8056,"color":"#fff0"},{"offset":0.8264,"color":"#fff0"},{"offset":0.8264,"color":"#3c5ab48c"},{"offset":0.8333,"color":"#3c5ab48c"},{"offset":0.8333,"color":"#fff0"},{"offset":0.8542,"color":"#fff0"},{"offset":0.8542,"color":"#3c5ab48c"},{"offset":0.8611,"color":"#3c5ab48c"},{"offset":0.8611,"color":"#fff0"},{"offset":0.8819,"color":"#fff0"},{"offset":0.8819,"color":"#3c5ab48c"},{"offset":0.8889,"color":"#3c5ab48c"},{"offset":0.8889,"color":"#fff0"},{"offset":0.9097,"color":"#fff0"},{"offset":0.9097,"color":"#3c5ab48c"},{"offset":0.9167,"color":"#3c5ab48c"},{"offset":0.9167,"color":"#fff0"},{"offset":0.9375,"color":"#fff0"},{"offset":0.9375,"color":"#3c5ab48c"},{"offset":0.9444,"color":"#3c5ab48c"},{"offset":0.9444,"color":"#fff0"},{"offset":0.9653,"color":"#fff0"},{"offset":0.9653,"color":"#3c5ab48c"},{"offset":0.9722,"color":"#3c5ab48c"},{"offset":0.9722,"color":"#fff0"},{"offset":0.9931,"color":"#fff0"},{"offset":0.9931,"color":"#3c5ab48c"},{"offset":1,"color":"#3c5ab48c"}]}}},
       {"data": {"name": "p2e"}, "mark": {"type": "line", "color": "#111", "strokeWidth": 1.3}},
       {"data": {"name": "p2h"}, "mark": {"type": "line", "color": "#444", "strokeWidth": 0.8}},
       {"data": {"name": "p2t"}, "mark": {"type": "text", "font": "Liberation Sans", "fontSize": 13, "color": "#111"}, "encoding": {"text": {"field": "t"}}},
       {"data": {"name": "p2l"}, "mark": {"type": "text", "font": "Liberation Serif", "fontSize": 12, "color": "white"}, "encoding": {"text": {"field": "t"}}},
       {"data": {"name": "p2u"}, "mark": {"type": "rule", "color": "#111", "strokeWidth": 1}, "encoding": {"x2": {"field": "x2"}}},
       {"data": {"name": "leg"}, "mark": {"type": "square", "size": 0}, "encoding": {"color": {"field": "c", "type": "nominal", "scale": {"domain": ["Aggregates","Dip G1","Dip G2","Dip S"], "range": ["#bfe6c6","#c42a1e","#c42a1e","#dfe4f3"]}, "legend": {"title": null, "orient": "none", "legendX": 152, "legendY": 16}}}}
      ]},
     {"encoding": {
       "x": {"field": "u", "type": "quantitative", "scale": {"domain": [-1.596, 2.0], "nice": false, "zero": false}, "axis": null},
       "y": {"field": "v", "type": "quantitative", "scale": {"domain": [-3.326, 1.07], "nice": false, "zero": false}, "axis": null}},
      "layer": [
       {"data": {"name": "scs"}, "mark": {"type": "circle", "size": 2.6, "color": "#ee8a98", "opacity": 0.9}},
       {"data": {"name": "scd"}, "mark": {"type": "circle", "size": 3.4, "color": "#d62a36", "opacity": 0.85}},
       {"data": {"name": "scb"}, "mark": {"type": "circle", "size": 2.5, "color": "#2f55c8"}},
       {"data": {"name": "sax"}, "mark": {"type": "rule", "color": "#444", "strokeWidth": 0.6}, "encoding": {"x2": {"field": "u2"}, "y2": {"field": "v2"}}},
       {"data": {"name": "stx"}, "mark": {"type": "tick", "orient": "vertical", "size": 2.5, "thickness": 0.5, "color": "#444"}},
       {"data": {"name": "sty"}, "mark": {"type": "tick", "orient": "horizontal", "size": 2.5, "thickness": 0.5, "color": "#444"}},
       {"data": {"name": "sgr"}, "mark": {"type": "rect", "fillOpacity": 0, "stroke": "#222", "strokeWidth": 0.6}, "encoding": {"x2": {"field": "u2"}, "y2": {"field": "v2"}}},
       {"data": {"name": "sgp"}, "mark": {"type": "line", "color": "#222", "strokeWidth": 0.6}, "encoding": {"order": {"field": "o"}}},
       {"data": {"name": "sxt"}, "mark": {"type": "text", "fontSize": 3.5, "color": "#555"}, "encoding": {"text": {"field": "t"}}},
       {"data": {"name": "syt"}, "mark": {"type": "text", "fontSize": 3.5, "color": "#555", "angle": 270}, "encoding": {"text": {"field": "t"}}},
       {"data": {"name": "srt"}, "mark": {"type": "text", "fontSize": 3.5, "color": "#222"}, "encoding": {"text": {"field": "t"}}}
      ]}
    ]}
  ]},
  {"spacing": 6.5, "resolve": {"scale": {"color": "independent"}}, "hconcat": [
   {"spacing": 0, "resolve": {"scale": {"color": "independent"}}, "hconcat": [
    {"width": 10, "height": 10, "data": {"values": [{"a": 1}]}, "mark": {"type": "point", "size": 0, "opacity": 0}},
    {"width": 224, "height": 186,
     "title": {"text": "PA + EF", "font": "Liberation Serif", "fontSize": 16, "fontWeight": "normal", "color": "#111", "anchor": "middle", "frame": "group", "dx": -14, "offset": -13.5, "baseline": "alphabetic"},
     "resolve": {"scale": {"x": "independent", "y": "independent"}},
     "layer": [
      {"encoding": {
        "x": {"field": "x", "type": "quantitative", "scale": {"domain": [0, 150], "nice": false, "zero": false}, "axis": {"values": [0,10,20,30,40,50,60,70,80,90,100,110,120,130,140,150], "labelExpr": "datum.value % 30 === 0 ? datum.label : ''", "title": "Channels  (FL2-A-FL2-Area)", "labelFontSize": 7.5, "titleFontSize": 8.5}},
        "y": {"field": "y", "type": "quantitative", "scale": {"domain": [0, 260], "nice": false}, "axis": {"values": [0,10,20,30,40,50,60,70,80,90,100,110,120,130,140,150,160,170,180,190,200,210,220,230,240], "labelExpr": "datum.value % 50 === 0 ? datum.label : ''", "title": "Number", "labelFontSize": 6.5, "titleFontSize": 7.5}}},
       "layer": [
        {"data": {"name": "p3b"}, "mark": {"type": "rect", "fill": "white", "stroke": "#666", "strokeWidth": 1.1}, "encoding": {"x2": {"field": "x2"}, "y2": {"field": "y2"}}},
        {"data": {"name": "p3a"}, "mark": {"type": "area", "fill": "#bfe6c6", "stroke": "#5f9f70", "strokeWidth": 0.6}},
        {"data": {"name": "p3g"}, "mark": {"type": "area", "fill": "#c42a1e", "stroke": "#4a0c08", "strokeWidth": 0.8}},
        {"data": {"name": "p3s"}, "mark": {"type": "area", "stroke": "#1a1a1a", "strokeWidth": 1.1, "fill": {"gradient": "linear", "x1": 0, "y1": 1, "x2": 1, "y2": 0, "stops": [{"offset":0,"color":"#fff0"},{"offset":0.0208,"color":"#fff0"},{"offset":0.0208,"color":"#3c5ab48c"},{"offset":0.0278,"color":"#3c5ab48c"},{"offset":0.0278,"color":"#fff0"},{"offset":0.0486,"color":"#fff0"},{"offset":0.0486,"color":"#3c5ab48c"},{"offset":0.0556,"color":"#3c5ab48c"},{"offset":0.0556,"color":"#fff0"},{"offset":0.0764,"color":"#fff0"},{"offset":0.0764,"color":"#3c5ab48c"},{"offset":0.0833,"color":"#3c5ab48c"},{"offset":0.0833,"color":"#fff0"},{"offset":0.1042,"color":"#fff0"},{"offset":0.1042,"color":"#3c5ab48c"},{"offset":0.1111,"color":"#3c5ab48c"},{"offset":0.1111,"color":"#fff0"},{"offset":0.1319,"color":"#fff0"},{"offset":0.1319,"color":"#3c5ab48c"},{"offset":0.1389,"color":"#3c5ab48c"},{"offset":0.1389,"color":"#fff0"},{"offset":0.1597,"color":"#fff0"},{"offset":0.1597,"color":"#3c5ab48c"},{"offset":0.1667,"color":"#3c5ab48c"},{"offset":0.1667,"color":"#fff0"},{"offset":0.1875,"color":"#fff0"},{"offset":0.1875,"color":"#3c5ab48c"},{"offset":0.1944,"color":"#3c5ab48c"},{"offset":0.1944,"color":"#fff0"},{"offset":0.2153,"color":"#fff0"},{"offset":0.2153,"color":"#3c5ab48c"},{"offset":0.2222,"color":"#3c5ab48c"},{"offset":0.2222,"color":"#fff0"},{"offset":0.2431,"color":"#fff0"},{"offset":0.2431,"color":"#3c5ab48c"},{"offset":0.25,"color":"#3c5ab48c"},{"offset":0.25,"color":"#fff0"},{"offset":0.2708,"color":"#fff0"},{"offset":0.2708,"color":"#3c5ab48c"},{"offset":0.2778,"color":"#3c5ab48c"},{"offset":0.2778,"color":"#fff0"},{"offset":0.2986,"color":"#fff0"},{"offset":0.2986,"color":"#3c5ab48c"},{"offset":0.3056,"color":"#3c5ab48c"},{"offset":0.3056,"color":"#fff0"},{"offset":0.3264,"color":"#fff0"},{"offset":0.3264,"color":"#3c5ab48c"},{"offset":0.3333,"color":"#3c5ab48c"},{"offset":0.3333,"color":"#fff0"},{"offset":0.3542,"color":"#fff0"},{"offset":0.3542,"color":"#3c5ab48c"},{"offset":0.3611,"color":"#3c5ab48c"},{"offset":0.3611,"color":"#fff0"},{"offset":0.3819,"color":"#fff0"},{"offset":0.3819,"color":"#3c5ab48c"},{"offset":0.3889,"color":"#3c5ab48c"},{"offset":0.3889,"color":"#fff0"},{"offset":0.4097,"color":"#fff0"},{"offset":0.4097,"color":"#3c5ab48c"},{"offset":0.4167,"color":"#3c5ab48c"},{"offset":0.4167,"color":"#fff0"},{"offset":0.4375,"color":"#fff0"},{"offset":0.4375,"color":"#3c5ab48c"},{"offset":0.4444,"color":"#3c5ab48c"},{"offset":0.4444,"color":"#fff0"},{"offset":0.4653,"color":"#fff0"},{"offset":0.4653,"color":"#3c5ab48c"},{"offset":0.4722,"color":"#3c5ab48c"},{"offset":0.4722,"color":"#fff0"},{"offset":0.4931,"color":"#fff0"},{"offset":0.4931,"color":"#3c5ab48c"},{"offset":0.5,"color":"#3c5ab48c"},{"offset":0.5,"color":"#fff0"},{"offset":0.5208,"color":"#fff0"},{"offset":0.5208,"color":"#3c5ab48c"},{"offset":0.5278,"color":"#3c5ab48c"},{"offset":0.5278,"color":"#fff0"},{"offset":0.5486,"color":"#fff0"},{"offset":0.5486,"color":"#3c5ab48c"},{"offset":0.5556,"color":"#3c5ab48c"},{"offset":0.5556,"color":"#fff0"},{"offset":0.5764,"color":"#fff0"},{"offset":0.5764,"color":"#3c5ab48c"},{"offset":0.5833,"color":"#3c5ab48c"},{"offset":0.5833,"color":"#fff0"},{"offset":0.6042,"color":"#fff0"},{"offset":0.6042,"color":"#3c5ab48c"},{"offset":0.6111,"color":"#3c5ab48c"},{"offset":0.6111,"color":"#fff0"},{"offset":0.6319,"color":"#fff0"},{"offset":0.6319,"color":"#3c5ab48c"},{"offset":0.6389,"color":"#3c5ab48c"},{"offset":0.6389,"color":"#fff0"},{"offset":0.6597,"color":"#fff0"},{"offset":0.6597,"color":"#3c5ab48c"},{"offset":0.6667,"color":"#3c5ab48c"},{"offset":0.6667,"color":"#fff0"},{"offset":0.6875,"color":"#fff0"},{"offset":0.6875,"color":"#3c5ab48c"},{"offset":0.6944,"color":"#3c5ab48c"},{"offset":0.6944,"color":"#fff0"},{"offset":0.7153,"color":"#fff0"},{"offset":0.7153,"color":"#3c5ab48c"},{"offset":0.7222,"color":"#3c5ab48c"},{"offset":0.7222,"color":"#fff0"},{"offset":0.7431,"color":"#fff0"},{"offset":0.7431,"color":"#3c5ab48c"},{"offset":0.75,"color":"#3c5ab48c"},{"offset":0.75,"color":"#fff0"},{"offset":0.7708,"color":"#fff0"},{"offset":0.7708,"color":"#3c5ab48c"},{"offset":0.7778,"color":"#3c5ab48c"},{"offset":0.7778,"color":"#fff0"},{"offset":0.7986,"color":"#fff0"},{"offset":0.7986,"color":"#3c5ab48c"},{"offset":0.8056,"color":"#3c5ab48c"},{"offset":0.8056,"color":"#fff0"},{"offset":0.8264,"color":"#fff0"},{"offset":0.8264,"color":"#3c5ab48c"},{"offset":0.8333,"color":"#3c5ab48c"},{"offset":0.8333,"color":"#fff0"},{"offset":0.8542,"color":"#fff0"},{"offset":0.8542,"color":"#3c5ab48c"},{"offset":0.8611,"color":"#3c5ab48c"},{"offset":0.8611,"color":"#fff0"},{"offset":0.8819,"color":"#fff0"},{"offset":0.8819,"color":"#3c5ab48c"},{"offset":0.8889,"color":"#3c5ab48c"},{"offset":0.8889,"color":"#fff0"},{"offset":0.9097,"color":"#fff0"},{"offset":0.9097,"color":"#3c5ab48c"},{"offset":0.9167,"color":"#3c5ab48c"},{"offset":0.9167,"color":"#fff0"},{"offset":0.9375,"color":"#fff0"},{"offset":0.9375,"color":"#3c5ab48c"},{"offset":0.9444,"color":"#3c5ab48c"},{"offset":0.9444,"color":"#fff0"},{"offset":0.9653,"color":"#fff0"},{"offset":0.9653,"color":"#3c5ab48c"},{"offset":0.9722,"color":"#3c5ab48c"},{"offset":0.9722,"color":"#fff0"},{"offset":0.9931,"color":"#fff0"},{"offset":0.9931,"color":"#3c5ab48c"},{"offset":1,"color":"#3c5ab48c"}]}}},
        {"data": {"name": "p3e"}, "mark": {"type": "line", "color": "#111", "strokeWidth": 1.3}},
        {"data": {"name": "p3h"}, "mark": {"type": "line", "color": "#444", "strokeWidth": 0.8}},
        {"data": {"name": "p3t"}, "mark": {"type": "text", "font": "Liberation Sans", "fontSize": 15, "color": "#111"}, "encoding": {"text": {"field": "t"}}},
        {"data": {"name": "p3l"}, "mark": {"type": "text", "font": "Liberation Serif", "fontSize": 17, "color": "white"}, "encoding": {"text": {"field": "t"}}},
        {"data": {"name": "p3u"}, "mark": {"type": "rule", "color": "#111", "strokeWidth": 1}, "encoding": {"x2": {"field": "x2"}}},
        {"data": {"name": "leg"}, "mark": {"type": "square", "size": 0}, "encoding": {"color": {"field": "c", "type": "nominal", "scale": {"domain": ["Aggregates","Dip G1","Dip G2","Dip S"], "range": ["#bfe6c6","#c42a1e","#c42a1e","#dfe4f3"]}, "legend": {"title": null, "orient": "none", "legendX": 178, "legendY": 10}}}}
       ]},
      {"encoding": {
        "x": {"field": "u", "type": "quantitative", "scale": {"domain": [-1.655, 2.207], "nice": false, "zero": false}, "axis": null},
        "y": {"field": "v", "type": "quantitative", "scale": {"domain": [-2.25, 1.071], "nice": false, "zero": false}, "axis": null}},
       "layer": [
        {"data": {"name": "scs"}, "mark": {"type": "circle", "size": 2.6, "color": "#ee8a98", "opacity": 0.9}},
        {"data": {"name": "scd"}, "mark": {"type": "circle", "size": 3.4, "color": "#d62a36", "opacity": 0.85}},
        {"data": {"name": "scb"}, "mark": {"type": "circle", "size": 2.5, "color": "#2f55c8"}},
        {"data": {"name": "sax"}, "mark": {"type": "rule", "color": "#444", "strokeWidth": 0.6}, "encoding": {"x2": {"field": "u2"}, "y2": {"field": "v2"}}},
        {"data": {"name": "stx"}, "mark": {"type": "tick", "orient": "vertical", "size": 2.5, "thickness": 0.5, "color": "#444"}},
        {"data": {"name": "sty"}, "mark": {"type": "tick", "orient": "horizontal", "size": 2.5, "thickness": 0.5, "color": "#444"}},
        {"data": {"name": "sgr"}, "mark": {"type": "rect", "fillOpacity": 0, "stroke": "#222", "strokeWidth": 0.6}, "encoding": {"x2": {"field": "u2"}, "y2": {"field": "v2"}}},
        {"data": {"name": "sgp"}, "mark": {"type": "line", "color": "#222", "strokeWidth": 0.6}, "encoding": {"order": {"field": "o"}}},
        {"data": {"name": "sxt"}, "mark": {"type": "text", "fontSize": 3.5, "color": "#555"}, "encoding": {"text": {"field": "t"}}},
        {"data": {"name": "syt"}, "mark": {"type": "text", "fontSize": 3.5, "color": "#555", "angle": 270}, "encoding": {"text": {"field": "t"}}},
        {"data": {"name": "srt"}, "mark": {"type": "text", "fontSize": 3.5, "color": "#222"}, "encoding": {"text": {"field": "t"}}}
       ]}
     ]}
   ]},
   {"width": 186, "height": 173,
    "title": {"text": "PA + LF", "font": "Liberation Serif", "fontSize": 17, "fontWeight": "normal", "color": "#111", "anchor": "middle", "frame": "group", "dx": 0, "offset": -14.5, "baseline": "alphabetic"},
    "resolve": {"scale": {"x": "independent", "y": "independent"}},
    "layer": [
     {"encoding": {
       "x": {"field": "x", "type": "quantitative", "scale": {"domain": [0, 150], "nice": false, "zero": false}, "axis": {"values": [0,10,20,30,40,50,60,70,80,90,100,110,120,130,140,150], "labelExpr": "datum.value % 30 === 0 ? datum.label : ''", "title": "Channels  (FL2-A-FL2-Area)", "labelFontSize": 6.5, "titleFontSize": 7.3}},
       "y": {"field": "y", "type": "quantitative", "scale": {"domain": [0, 264], "nice": false}, "axis": {"values": [0,10,20,30,40,50,60,70,80,90,100,110,120,130,140,150,160,170,180,190,200,210,220,230,240], "labelExpr": "datum.value % 50 === 0 ? datum.label : ''", "title": "Number", "labelFontSize": 6, "titleFontSize": 7}}},
      "layer": [
       {"data": {"name": "p4b"}, "mark": {"type": "rect", "fill": "white", "stroke": "#666", "strokeWidth": 1.1}, "encoding": {"x2": {"field": "x2"}, "y2": {"field": "y2"}}},
       {"data": {"name": "p4a"}, "mark": {"type": "area", "fill": "#bfe6c6", "stroke": "#5f9f70", "strokeWidth": 0.6}},
       {"data": {"name": "p4g"}, "mark": {"type": "area", "fill": "#c42a1e", "stroke": "#4a0c08", "strokeWidth": 0.8}},
       {"data": {"name": "p4s"}, "mark": {"type": "area", "stroke": "#1a1a1a", "strokeWidth": 1.1, "fill": {"gradient": "linear", "x1": 0, "y1": 1, "x2": 1, "y2": 0, "stops": [{"offset":0,"color":"#fff0"},{"offset":0.0208,"color":"#fff0"},{"offset":0.0208,"color":"#3c5ab48c"},{"offset":0.0278,"color":"#3c5ab48c"},{"offset":0.0278,"color":"#fff0"},{"offset":0.0486,"color":"#fff0"},{"offset":0.0486,"color":"#3c5ab48c"},{"offset":0.0556,"color":"#3c5ab48c"},{"offset":0.0556,"color":"#fff0"},{"offset":0.0764,"color":"#fff0"},{"offset":0.0764,"color":"#3c5ab48c"},{"offset":0.0833,"color":"#3c5ab48c"},{"offset":0.0833,"color":"#fff0"},{"offset":0.1042,"color":"#fff0"},{"offset":0.1042,"color":"#3c5ab48c"},{"offset":0.1111,"color":"#3c5ab48c"},{"offset":0.1111,"color":"#fff0"},{"offset":0.1319,"color":"#fff0"},{"offset":0.1319,"color":"#3c5ab48c"},{"offset":0.1389,"color":"#3c5ab48c"},{"offset":0.1389,"color":"#fff0"},{"offset":0.1597,"color":"#fff0"},{"offset":0.1597,"color":"#3c5ab48c"},{"offset":0.1667,"color":"#3c5ab48c"},{"offset":0.1667,"color":"#fff0"},{"offset":0.1875,"color":"#fff0"},{"offset":0.1875,"color":"#3c5ab48c"},{"offset":0.1944,"color":"#3c5ab48c"},{"offset":0.1944,"color":"#fff0"},{"offset":0.2153,"color":"#fff0"},{"offset":0.2153,"color":"#3c5ab48c"},{"offset":0.2222,"color":"#3c5ab48c"},{"offset":0.2222,"color":"#fff0"},{"offset":0.2431,"color":"#fff0"},{"offset":0.2431,"color":"#3c5ab48c"},{"offset":0.25,"color":"#3c5ab48c"},{"offset":0.25,"color":"#fff0"},{"offset":0.2708,"color":"#fff0"},{"offset":0.2708,"color":"#3c5ab48c"},{"offset":0.2778,"color":"#3c5ab48c"},{"offset":0.2778,"color":"#fff0"},{"offset":0.2986,"color":"#fff0"},{"offset":0.2986,"color":"#3c5ab48c"},{"offset":0.3056,"color":"#3c5ab48c"},{"offset":0.3056,"color":"#fff0"},{"offset":0.3264,"color":"#fff0"},{"offset":0.3264,"color":"#3c5ab48c"},{"offset":0.3333,"color":"#3c5ab48c"},{"offset":0.3333,"color":"#fff0"},{"offset":0.3542,"color":"#fff0"},{"offset":0.3542,"color":"#3c5ab48c"},{"offset":0.3611,"color":"#3c5ab48c"},{"offset":0.3611,"color":"#fff0"},{"offset":0.3819,"color":"#fff0"},{"offset":0.3819,"color":"#3c5ab48c"},{"offset":0.3889,"color":"#3c5ab48c"},{"offset":0.3889,"color":"#fff0"},{"offset":0.4097,"color":"#fff0"},{"offset":0.4097,"color":"#3c5ab48c"},{"offset":0.4167,"color":"#3c5ab48c"},{"offset":0.4167,"color":"#fff0"},{"offset":0.4375,"color":"#fff0"},{"offset":0.4375,"color":"#3c5ab48c"},{"offset":0.4444,"color":"#3c5ab48c"},{"offset":0.4444,"color":"#fff0"},{"offset":0.4653,"color":"#fff0"},{"offset":0.4653,"color":"#3c5ab48c"},{"offset":0.4722,"color":"#3c5ab48c"},{"offset":0.4722,"color":"#fff0"},{"offset":0.4931,"color":"#fff0"},{"offset":0.4931,"color":"#3c5ab48c"},{"offset":0.5,"color":"#3c5ab48c"},{"offset":0.5,"color":"#fff0"},{"offset":0.5208,"color":"#fff0"},{"offset":0.5208,"color":"#3c5ab48c"},{"offset":0.5278,"color":"#3c5ab48c"},{"offset":0.5278,"color":"#fff0"},{"offset":0.5486,"color":"#fff0"},{"offset":0.5486,"color":"#3c5ab48c"},{"offset":0.5556,"color":"#3c5ab48c"},{"offset":0.5556,"color":"#fff0"},{"offset":0.5764,"color":"#fff0"},{"offset":0.5764,"color":"#3c5ab48c"},{"offset":0.5833,"color":"#3c5ab48c"},{"offset":0.5833,"color":"#fff0"},{"offset":0.6042,"color":"#fff0"},{"offset":0.6042,"color":"#3c5ab48c"},{"offset":0.6111,"color":"#3c5ab48c"},{"offset":0.6111,"color":"#fff0"},{"offset":0.6319,"color":"#fff0"},{"offset":0.6319,"color":"#3c5ab48c"},{"offset":0.6389,"color":"#3c5ab48c"},{"offset":0.6389,"color":"#fff0"},{"offset":0.6597,"color":"#fff0"},{"offset":0.6597,"color":"#3c5ab48c"},{"offset":0.6667,"color":"#3c5ab48c"},{"offset":0.6667,"color":"#fff0"},{"offset":0.6875,"color":"#fff0"},{"offset":0.6875,"color":"#3c5ab48c"},{"offset":0.6944,"color":"#3c5ab48c"},{"offset":0.6944,"color":"#fff0"},{"offset":0.7153,"color":"#fff0"},{"offset":0.7153,"color":"#3c5ab48c"},{"offset":0.7222,"color":"#3c5ab48c"},{"offset":0.7222,"color":"#fff0"},{"offset":0.7431,"color":"#fff0"},{"offset":0.7431,"color":"#3c5ab48c"},{"offset":0.75,"color":"#3c5ab48c"},{"offset":0.75,"color":"#fff0"},{"offset":0.7708,"color":"#fff0"},{"offset":0.7708,"color":"#3c5ab48c"},{"offset":0.7778,"color":"#3c5ab48c"},{"offset":0.7778,"color":"#fff0"},{"offset":0.7986,"color":"#fff0"},{"offset":0.7986,"color":"#3c5ab48c"},{"offset":0.8056,"color":"#3c5ab48c"},{"offset":0.8056,"color":"#fff0"},{"offset":0.8264,"color":"#fff0"},{"offset":0.8264,"color":"#3c5ab48c"},{"offset":0.8333,"color":"#3c5ab48c"},{"offset":0.8333,"color":"#fff0"},{"offset":0.8542,"color":"#fff0"},{"offset":0.8542,"color":"#3c5ab48c"},{"offset":0.8611,"color":"#3c5ab48c"},{"offset":0.8611,"color":"#fff0"},{"offset":0.8819,"color":"#fff0"},{"offset":0.8819,"color":"#3c5ab48c"},{"offset":0.8889,"color":"#3c5ab48c"},{"offset":0.8889,"color":"#fff0"},{"offset":0.9097,"color":"#fff0"},{"offset":0.9097,"color":"#3c5ab48c"},{"offset":0.9167,"color":"#3c5ab48c"},{"offset":0.9167,"color":"#fff0"},{"offset":0.9375,"color":"#fff0"},{"offset":0.9375,"color":"#3c5ab48c"},{"offset":0.9444,"color":"#3c5ab48c"},{"offset":0.9444,"color":"#fff0"},{"offset":0.9653,"color":"#fff0"},{"offset":0.9653,"color":"#3c5ab48c"},{"offset":0.9722,"color":"#3c5ab48c"},{"offset":0.9722,"color":"#fff0"},{"offset":0.9931,"color":"#fff0"},{"offset":0.9931,"color":"#3c5ab48c"},{"offset":1,"color":"#3c5ab48c"}]}}},
       {"data": {"name": "p4e"}, "mark": {"type": "line", "color": "#111", "strokeWidth": 1.3}},
       {"data": {"name": "p4h"}, "mark": {"type": "line", "color": "#444", "strokeWidth": 0.8}},
       {"data": {"name": "p4t"}, "mark": {"type": "text", "font": "Liberation Sans", "fontSize": 15, "color": "#111"}, "encoding": {"text": {"field": "t"}}},
       {"data": {"name": "p4l"}, "mark": {"type": "text", "font": "Liberation Serif", "fontSize": 17, "color": "white"}, "encoding": {"text": {"field": "t"}}},
       {"data": {"name": "p4u"}, "mark": {"type": "rule", "color": "#111", "strokeWidth": 1}, "encoding": {"x2": {"field": "x2"}}},
       {"data": {"name": "leg"}, "mark": {"type": "square", "size": 0}, "encoding": {"color": {"field": "c", "type": "nominal", "scale": {"domain": ["Aggregates","Dip G1","Dip G2","Dip S"], "range": ["#bfe6c6","#c42a1e","#c42a1e","#dfe4f3"]}, "legend": {"title": null, "orient": "none", "legendX": 149, "legendY": 16}}}}
      ]},
     {"encoding": {
       "x": {"field": "u", "type": "quantitative", "scale": {"domain": [-2.282, 2.487], "nice": false, "zero": false}, "axis": null},
       "y": {"field": "v", "type": "quantitative", "scale": {"domain": [-2.327, 1.204], "nice": false, "zero": false}, "axis": null}},
      "layer": [
       {"data": {"name": "scs"}, "mark": {"type": "circle", "size": 2.6, "color": "#ee8a98", "opacity": 0.9}},
       {"data": {"name": "scd"}, "mark": {"type": "circle", "size": 3.4, "color": "#d62a36", "opacity": 0.85}},
       {"data": {"name": "scb"}, "mark": {"type": "circle", "size": 2.5, "color": "#2f55c8"}},
       {"data": {"name": "sax"}, "mark": {"type": "rule", "color": "#444", "strokeWidth": 0.6}, "encoding": {"x2": {"field": "u2"}, "y2": {"field": "v2"}}},
       {"data": {"name": "stx"}, "mark": {"type": "tick", "orient": "vertical", "size": 2.5, "thickness": 0.5, "color": "#444"}},
       {"data": {"name": "sty"}, "mark": {"type": "tick", "orient": "horizontal", "size": 2.5, "thickness": 0.5, "color": "#444"}},
       {"data": {"name": "sgr"}, "mark": {"type": "rect", "fillOpacity": 0, "stroke": "#222", "strokeWidth": 0.6}, "encoding": {"x2": {"field": "u2"}, "y2": {"field": "v2"}}},
       {"data": {"name": "sgp"}, "mark": {"type": "line", "color": "#222", "strokeWidth": 0.6}, "encoding": {"order": {"field": "o"}}},
       {"data": {"name": "sxt"}, "mark": {"type": "text", "fontSize": 3.5, "color": "#555"}, "encoding": {"text": {"field": "t"}}},
       {"data": {"name": "syt"}, "mark": {"type": "text", "fontSize": 3.5, "color": "#555", "angle": 270}, "encoding": {"text": {"field": "t"}}},
       {"data": {"name": "srt"}, "mark": {"type": "text", "fontSize": 3.5, "color": "#222"}, "encoding": {"text": {"field": "t"}}}
      ]}
    ]}
  ]}
 ]},
 {"spacing": 0, "resolve": {"scale": {"color": "independent"}}, "hconcat": [
  {"width": 150, "height": 10, "data": {"values": [{"a": 1}]}, "mark": {"type": "point", "size": 0, "opacity": 0}},
  {"width": 193, "height": 180,
   "title": {"text": "PA+LF+EF", "font": "Liberation Serif", "fontSize": 18, "fontWeight": "normal", "color": "#111", "anchor": "middle", "frame": "group", "dx": 13.5, "offset": -15.5, "baseline": "alphabetic"},
   "resolve": {"scale": {"x": "independent", "y": "independent"}},
   "layer": [
    {"encoding": {
      "x": {"field": "x", "type": "quantitative", "scale": {"domain": [0, 150], "nice": false, "zero": false}, "axis": {"values": [0,10,20,30,40,50,60,70,80,90,100,110,120,130,140,150], "labelExpr": "datum.value % 30 === 0 ? datum.label : ''", "title": "Channels  (FL2-A-FL2-Area)", "labelFontSize": 6.5, "titleFontSize": 7.5}},
      "y": {"field": "y", "type": "quantitative", "scale": {"domain": [0, 375], "nice": false}, "axis": {"values": [0,10,20,30,40,50,60,70,80,90,100,110,120,130,140,150,160,170,180,190,200,210,220,230,240,250,260,270,280,290,300,310,320,330,340,350], "labelExpr": "datum.value % 70 === 0 ? datum.label : ''", "title": "Number", "labelFontSize": 6, "titleFontSize": 7}}},
     "layer": [
      {"data": {"name": "p5b"}, "mark": {"type": "rect", "fill": "white", "stroke": "#666", "strokeWidth": 1.1}, "encoding": {"x2": {"field": "x2"}, "y2": {"field": "y2"}}},
      {"data": {"name": "p5a"}, "mark": {"type": "area", "fill": "#bfe6c6", "stroke": "#5f9f70", "strokeWidth": 0.6}},
      {"data": {"name": "p5g"}, "mark": {"type": "area", "fill": "#c42a1e", "stroke": "#4a0c08", "strokeWidth": 0.8}},
      {"data": {"name": "p5s"}, "mark": {"type": "area", "stroke": "#1a1a1a", "strokeWidth": 1.1, "fill": {"gradient": "linear", "x1": 0, "y1": 1, "x2": 1, "y2": 0, "stops": [{"offset":0,"color":"#fff0"},{"offset":0.0208,"color":"#fff0"},{"offset":0.0208,"color":"#3c5ab48c"},{"offset":0.0278,"color":"#3c5ab48c"},{"offset":0.0278,"color":"#fff0"},{"offset":0.0486,"color":"#fff0"},{"offset":0.0486,"color":"#3c5ab48c"},{"offset":0.0556,"color":"#3c5ab48c"},{"offset":0.0556,"color":"#fff0"},{"offset":0.0764,"color":"#fff0"},{"offset":0.0764,"color":"#3c5ab48c"},{"offset":0.0833,"color":"#3c5ab48c"},{"offset":0.0833,"color":"#fff0"},{"offset":0.1042,"color":"#fff0"},{"offset":0.1042,"color":"#3c5ab48c"},{"offset":0.1111,"color":"#3c5ab48c"},{"offset":0.1111,"color":"#fff0"},{"offset":0.1319,"color":"#fff0"},{"offset":0.1319,"color":"#3c5ab48c"},{"offset":0.1389,"color":"#3c5ab48c"},{"offset":0.1389,"color":"#fff0"},{"offset":0.1597,"color":"#fff0"},{"offset":0.1597,"color":"#3c5ab48c"},{"offset":0.1667,"color":"#3c5ab48c"},{"offset":0.1667,"color":"#fff0"},{"offset":0.1875,"color":"#fff0"},{"offset":0.1875,"color":"#3c5ab48c"},{"offset":0.1944,"color":"#3c5ab48c"},{"offset":0.1944,"color":"#fff0"},{"offset":0.2153,"color":"#fff0"},{"offset":0.2153,"color":"#3c5ab48c"},{"offset":0.2222,"color":"#3c5ab48c"},{"offset":0.2222,"color":"#fff0"},{"offset":0.2431,"color":"#fff0"},{"offset":0.2431,"color":"#3c5ab48c"},{"offset":0.25,"color":"#3c5ab48c"},{"offset":0.25,"color":"#fff0"},{"offset":0.2708,"color":"#fff0"},{"offset":0.2708,"color":"#3c5ab48c"},{"offset":0.2778,"color":"#3c5ab48c"},{"offset":0.2778,"color":"#fff0"},{"offset":0.2986,"color":"#fff0"},{"offset":0.2986,"color":"#3c5ab48c"},{"offset":0.3056,"color":"#3c5ab48c"},{"offset":0.3056,"color":"#fff0"},{"offset":0.3264,"color":"#fff0"},{"offset":0.3264,"color":"#3c5ab48c"},{"offset":0.3333,"color":"#3c5ab48c"},{"offset":0.3333,"color":"#fff0"},{"offset":0.3542,"color":"#fff0"},{"offset":0.3542,"color":"#3c5ab48c"},{"offset":0.3611,"color":"#3c5ab48c"},{"offset":0.3611,"color":"#fff0"},{"offset":0.3819,"color":"#fff0"},{"offset":0.3819,"color":"#3c5ab48c"},{"offset":0.3889,"color":"#3c5ab48c"},{"offset":0.3889,"color":"#fff0"},{"offset":0.4097,"color":"#fff0"},{"offset":0.4097,"color":"#3c5ab48c"},{"offset":0.4167,"color":"#3c5ab48c"},{"offset":0.4167,"color":"#fff0"},{"offset":0.4375,"color":"#fff0"},{"offset":0.4375,"color":"#3c5ab48c"},{"offset":0.4444,"color":"#3c5ab48c"},{"offset":0.4444,"color":"#fff0"},{"offset":0.4653,"color":"#fff0"},{"offset":0.4653,"color":"#3c5ab48c"},{"offset":0.4722,"color":"#3c5ab48c"},{"offset":0.4722,"color":"#fff0"},{"offset":0.4931,"color":"#fff0"},{"offset":0.4931,"color":"#3c5ab48c"},{"offset":0.5,"color":"#3c5ab48c"},{"offset":0.5,"color":"#fff0"},{"offset":0.5208,"color":"#fff0"},{"offset":0.5208,"color":"#3c5ab48c"},{"offset":0.5278,"color":"#3c5ab48c"},{"offset":0.5278,"color":"#fff0"},{"offset":0.5486,"color":"#fff0"},{"offset":0.5486,"color":"#3c5ab48c"},{"offset":0.5556,"color":"#3c5ab48c"},{"offset":0.5556,"color":"#fff0"},{"offset":0.5764,"color":"#fff0"},{"offset":0.5764,"color":"#3c5ab48c"},{"offset":0.5833,"color":"#3c5ab48c"},{"offset":0.5833,"color":"#fff0"},{"offset":0.6042,"color":"#fff0"},{"offset":0.6042,"color":"#3c5ab48c"},{"offset":0.6111,"color":"#3c5ab48c"},{"offset":0.6111,"color":"#fff0"},{"offset":0.6319,"color":"#fff0"},{"offset":0.6319,"color":"#3c5ab48c"},{"offset":0.6389,"color":"#3c5ab48c"},{"offset":0.6389,"color":"#fff0"},{"offset":0.6597,"color":"#fff0"},{"offset":0.6597,"color":"#3c5ab48c"},{"offset":0.6667,"color":"#3c5ab48c"},{"offset":0.6667,"color":"#fff0"},{"offset":0.6875,"color":"#fff0"},{"offset":0.6875,"color":"#3c5ab48c"},{"offset":0.6944,"color":"#3c5ab48c"},{"offset":0.6944,"color":"#fff0"},{"offset":0.7153,"color":"#fff0"},{"offset":0.7153,"color":"#3c5ab48c"},{"offset":0.7222,"color":"#3c5ab48c"},{"offset":0.7222,"color":"#fff0"},{"offset":0.7431,"color":"#fff0"},{"offset":0.7431,"color":"#3c5ab48c"},{"offset":0.75,"color":"#3c5ab48c"},{"offset":0.75,"color":"#fff0"},{"offset":0.7708,"color":"#fff0"},{"offset":0.7708,"color":"#3c5ab48c"},{"offset":0.7778,"color":"#3c5ab48c"},{"offset":0.7778,"color":"#fff0"},{"offset":0.7986,"color":"#fff0"},{"offset":0.7986,"color":"#3c5ab48c"},{"offset":0.8056,"color":"#3c5ab48c"},{"offset":0.8056,"color":"#fff0"},{"offset":0.8264,"color":"#fff0"},{"offset":0.8264,"color":"#3c5ab48c"},{"offset":0.8333,"color":"#3c5ab48c"},{"offset":0.8333,"color":"#fff0"},{"offset":0.8542,"color":"#fff0"},{"offset":0.8542,"color":"#3c5ab48c"},{"offset":0.8611,"color":"#3c5ab48c"},{"offset":0.8611,"color":"#fff0"},{"offset":0.8819,"color":"#fff0"},{"offset":0.8819,"color":"#3c5ab48c"},{"offset":0.8889,"color":"#3c5ab48c"},{"offset":0.8889,"color":"#fff0"},{"offset":0.9097,"color":"#fff0"},{"offset":0.9097,"color":"#3c5ab48c"},{"offset":0.9167,"color":"#3c5ab48c"},{"offset":0.9167,"color":"#fff0"},{"offset":0.9375,"color":"#fff0"},{"offset":0.9375,"color":"#3c5ab48c"},{"offset":0.9444,"color":"#3c5ab48c"},{"offset":0.9444,"color":"#fff0"},{"offset":0.9653,"color":"#fff0"},{"offset":0.9653,"color":"#3c5ab48c"},{"offset":0.9722,"color":"#3c5ab48c"},{"offset":0.9722,"color":"#fff0"},{"offset":0.9931,"color":"#fff0"},{"offset":0.9931,"color":"#3c5ab48c"},{"offset":1,"color":"#3c5ab48c"}]}}},
      {"data": {"name": "p5e"}, "mark": {"type": "line", "color": "#111", "strokeWidth": 1.3}},
      {"data": {"name": "p5h"}, "mark": {"type": "line", "color": "#444", "strokeWidth": 0.8}},
      {"data": {"name": "p5t"}, "mark": {"type": "text", "font": "Liberation Sans", "fontSize": 15, "color": "#111"}, "encoding": {"text": {"field": "t"}}},
      {"data": {"name": "p5l"}, "mark": {"type": "text", "font": "Liberation Serif", "fontSize": 17, "color": "white"}, "encoding": {"text": {"field": "t"}}},
      {"data": {"name": "p5u"}, "mark": {"type": "rule", "color": "#111", "strokeWidth": 1}, "encoding": {"x2": {"field": "x2"}}},
      {"data": {"name": "leg"}, "mark": {"type": "square", "size": 0}, "encoding": {"color": {"field": "c", "type": "nominal", "scale": {"domain": ["Aggregates","Dip G1","Dip G2","Dip S"], "range": ["#bfe6c6","#c42a1e","#c42a1e","#dfe4f3"]}, "legend": {"title": null, "orient": "none", "legendX": 154, "legendY": 21}}}}
     ]},
    {"encoding": {
      "x": {"field": "u", "type": "quantitative", "scale": {"domain": [-1.979, 2.128], "nice": false, "zero": false}, "axis": null},
      "y": {"field": "v", "type": "quantitative", "scale": {"domain": [-2.54, 1.06], "nice": false, "zero": false}, "axis": null}},
     "layer": [
      {"data": {"name": "scs"}, "mark": {"type": "circle", "size": 2.6, "color": "#ee8a98", "opacity": 0.9}},
      {"data": {"name": "scd"}, "mark": {"type": "circle", "size": 3.4, "color": "#d62a36", "opacity": 0.85}},
      {"data": {"name": "scb"}, "mark": {"type": "circle", "size": 2.5, "color": "#2f55c8"}},
      {"data": {"name": "sax"}, "mark": {"type": "rule", "color": "#444", "strokeWidth": 0.6}, "encoding": {"x2": {"field": "u2"}, "y2": {"field": "v2"}}},
      {"data": {"name": "stx"}, "mark": {"type": "tick", "orient": "vertical", "size": 2.5, "thickness": 0.5, "color": "#444"}},
      {"data": {"name": "sty"}, "mark": {"type": "tick", "orient": "horizontal", "size": 2.5, "thickness": 0.5, "color": "#444"}},
      {"data": {"name": "sgr"}, "mark": {"type": "rect", "fillOpacity": 0, "stroke": "#222", "strokeWidth": 0.6}, "encoding": {"x2": {"field": "u2"}, "y2": {"field": "v2"}}},
      {"data": {"name": "sgp"}, "mark": {"type": "line", "color": "#222", "strokeWidth": 0.6}, "encoding": {"order": {"field": "o"}}},
      {"data": {"name": "sxt"}, "mark": {"type": "text", "fontSize": 3.5, "color": "#555"}, "encoding": {"text": {"field": "t"}}},
      {"data": {"name": "syt"}, "mark": {"type": "text", "fontSize": 3.5, "color": "#555", "angle": 270}, "encoding": {"text": {"field": "t"}}},
      {"data": {"name": "srt"}, "mark": {"type": "text", "fontSize": 3.5, "color": "#222"}, "encoding": {"text": {"field": "t"}}}
     ]}
   ]}
 ]}
]
}
